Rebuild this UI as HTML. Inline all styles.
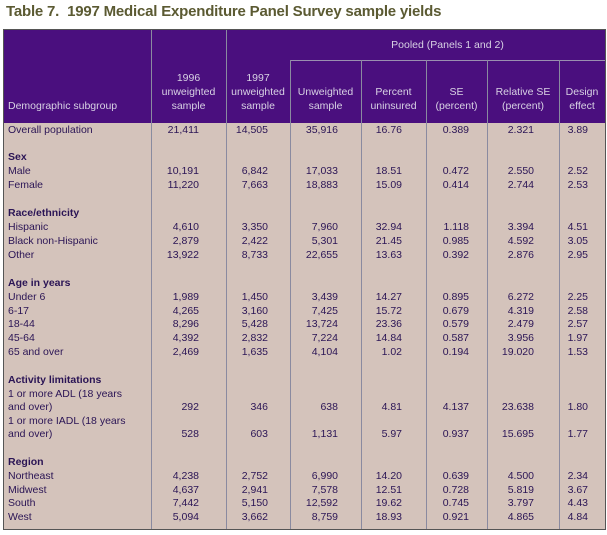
<!DOCTYPE html>
<html><head><meta charset="utf-8">
<style>
body{margin:0;width:607px;height:535px;background:#fff;font-family:"Liberation Sans",sans-serif;position:relative;overflow:hidden}
#title{position:absolute;left:6px;top:3px;font-size:15px;font-weight:bold;color:#5b5a32;letter-spacing:-0.2px}
#tbl{position:absolute;left:3px;top:29px;width:601px;height:499px;background:#d9c8bf;border:1px solid #555;
 background-image:radial-gradient(#c7b5ae 0.6px,transparent 0.7px);background-size:2px 2px}
#hdr{position:absolute;left:0;top:0;width:601px;height:93px;background:#4a0f7e}
.vl{position:absolute;width:1px;background:#7b8a6a}
.hl{position:absolute;height:1px;background:#9a8fb0}
.h{position:absolute;color:#d8d2e4;font-size:10.5px;text-align:center;line-height:14px}
.c{position:absolute;font-size:10.5px;color:#2a1455;white-space:nowrap;line-height:13px}
.b{font-weight:bold}
.r{text-align:right}
</style></head><body>
<div id="title">Table 7.&nbsp; 1997 Medical Expenditure Panel Survey sample yields</div>
<div id="tbl">
<div id="hdr"></div>
<div class="hl" style="left:286px;top:30px;width:315px"></div>
<div class="h" style="left:286px;top:8px;width:315px">Pooled (Panels 1 and 2)</div>
<div class="h" style="left:4px;top:69px;text-align:left">Demographic subgroup</div>
<div class="h" style="left:147px;top:41px;width:75px">1996<br>unweighted<br>sample</div>
<div class="h" style="left:222px;top:41px;width:64px">1997<br>unweighted<br>sample</div>
<div class="h" style="left:286px;top:55px;width:71px">Unweighted<br>sample</div>
<div class="h" style="left:357px;top:55px;width:65px">Percent<br>uninsured</div>
<div class="h" style="left:422px;top:55px;width:61px">SE<br>(percent)</div>
<div class="h" style="left:483px;top:55px;width:72px">Relative SE<br>(percent)</div>
<div class="h" style="left:555px;top:55px;width:46px">Design<br>effect</div>
</div>
<script>
const rows=[
["Overall population",101,["21,411","14,505","35,916","16.76","0.389","2.321","3.89"]],
["Sex",128,null,1],
["Male",142,["10,191","6,842","17,033","18.51","0.472","2.550","2.52"]],
["Female",156,["11,220","7,663","18,883","15.09","0.414","2.744","2.53"]],
["Race/ethnicity",184,null,1],
["Hispanic",198,["4,610","3,350","7,960","32.94","1.118","3.394","4.51"]],
["Black non-Hispanic",212,["2,879","2,422","5,301","21.45","0.985","4.592","3.05"]],
["Other",226,["13,922","8,733","22,655","13.63","0.392","2.876","2.95"]],
["Age in years",254,null,1],
["Under 6",268,["1,989","1,450","3,439","14.27","0.895","6.272","2.25"]],
["6-17",282,["4,265","3,160","7,425","15.72","0.679","4.319","2.58"]],
["18-44",295,["8,296","5,428","13,724","23.36","0.579","2.479","2.57"]],
["45-64",309,["4,392","2,832","7,224","14.84","0.587","3.956","1.97"]],
["65 and over",323,["2,469","1,635","4,104","1.02","0.194","19.020","1.53"]],
["Activity limitations",351,null,1],
["1 or more ADL (18 years",365,null],
["and over)",378,["292","346","638","4.81","4.137","23.638","1.80"]],
["1 or more IADL (18 years",392,null],
["and over)",405,["528","603","1,131","5.97","0.937","15.695","1.77"]],
["Region",433,null,1],
["Northeast",447,["4,238","2,752","6,990","14.20","0.639","4.500","2.34"]],
["Midwest",461,["4,637","2,941","7,578","12.51","0.728","5.819","3.67"]],
["South",474,["7,442","5,150","12,592","19.62","0.745","3.797","4.43"]],
["West",488,["5,094","3,662","8,759","18.93","0.921","4.865","4.84"]]
];
const colRight=[198,267,337,401,468,533,587];
const lines=[[147,0],[222,0],[286,30],[357,30],[422,30],[483,30],[555,30]];
const tb=document.getElementById('tbl');
lines.forEach(l=>{const d=document.createElement('div');d.className='vl';


d.style.left=l[0]+'px';d.style.top=l[1]+'px';d.style.height=(499-l[1])+'px';
d.style.background='#8a8aa0';
tb.appendChild(d);});
rows.forEach(r=>{const t=r[1]-7;
const lab=document.createElement('div');lab.className='c'+(r[3]?' b':'');


lab.style.left='4px';lab.style.top=t+'px';lab.textContent=r[0];tb.appendChild(lab);
if(r[2])r[2].forEach((v,i)=>{const c=document.createElement('div');c.className='c r';


c.style.right=(601-colRight[i]+3)+'px';c.style.top=t+'px';c.textContent=v;tb.appendChild(c);});
});
</script>
</body></html>
